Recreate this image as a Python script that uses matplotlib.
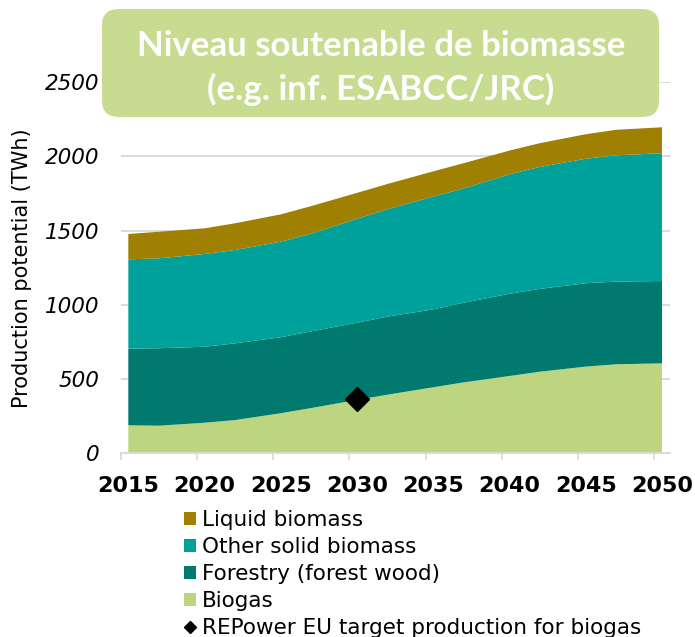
import matplotlib
matplotlib.use('Agg')
import matplotlib.pyplot as plt
from matplotlib.patches import FancyBboxPatch, Patch
from matplotlib.lines import Line2D

# values (TWh)
years = [2015, 2017, 2020, 2022, 2025, 2027, 2030, 2032, 2035, 2037, 2040, 2042, 2045, 2047, 2050]
biogas = [189, 186, 206, 224, 270, 305, 360, 395, 445, 478, 521, 550, 584, 600, 606]
forestry = [516, 522, 512, 517, 512, 517, 520, 526, 525, 537, 554, 558, 562, 557, 555]
other_solid = [602, 606, 625, 629, 644, 658, 700, 724, 760, 770, 805, 822, 839, 851, 861]
liquid = [171, 179, 173, 180, 184, 186, 175, 170, 170, 170, 160, 160, 165, 172, 175]

target_year = [2030]
target_value = [365]

labels = ['Biogas', 'Forestry (forest wood)', 'Other solid biomass', 'Liquid biomass']
colors = ['#BDD57E', '#00796F', '#00A19A', '#A08000']
x_ticks = [2015, 2020, 2025, 2030, 2035, 2040, 2045, 2050]
y_ticks = [0, 500, 1000, 1500, 2000, 2500]

W, H = 695, 637
fig = plt.figure(figsize=(W / 100, H / 100), dpi=100)
ax = fig.add_axes([120.7 / W, 1 - 453.3 / H, (669.6 - 120.7) / W, (453.3 - 82.3) / H])

ax.stackplot(years, biogas, forestry, other_solid, liquid, colors=colors, linewidth=0, zorder=2)
ax.plot(target_year, target_value, marker='D', color='black', markersize=12, linestyle='none', zorder=3)

ax.set_xlim(2014.5, 2050.5)
ax.set_ylim(0, 2500)
ax.set_yticks(y_ticks)
ax.set_yticklabels([str(v) for v in y_ticks], fontstyle='italic', fontsize=15.5)
ax.set_xticks(x_ticks)
ax.set_xticklabels([str(v) for v in x_ticks], fontweight='bold', fontsize=16)
ax.set_xticks([t - 0.5 for t in x_ticks], minor=True)
ax.tick_params(axis='x', which='major', length=0, pad=16)
ax.tick_params(axis='x', which='minor', length=5, color='#d9d9d9', width=1.2)
ax.tick_params(axis='y', length=0, pad=15)
ax.grid(axis='y', color='#d9d9d9', linewidth=1.3, zorder=0)
ax.set_axisbelow(True)
for s in ['top', 'right', 'left']:
    ax.spines[s].set_visible(False)
ax.spines['bottom'].set_color('#d9d9d9')
ax.spines['bottom'].set_linewidth(1.3)
ax.set_ylabel('Production potential (TWh)', fontsize=15)
ax.yaxis.set_label_coords((22 - 120.7) / (669.6 - 120.7), (453.3 - 268) / (453.3 - 82.3))
ax.yaxis.label.set_va('center')

# title box
box = FancyBboxPatch((102 / W, 1 - 117 / H), (659 - 102) / W, (117 - 9) / H,
                     boxstyle='round,pad=0,rounding_size=0.025', transform=fig.transFigure,
                     facecolor='#C7DC90', edgecolor='none', zorder=5)
fig.patches.append(box)
fig.text(381 / W, 1 - 68 / H, 'Niveau soutenable de biomasse\n(e.g. inf. ESABCC/JRC)',
         ha='center', va='center', color='white', fontsize=25, fontweight='bold',
         family='Lato', linespacing=1.42, zorder=6)

handles = [Patch(facecolor=colors[3]), Patch(facecolor=colors[2]), Patch(facecolor=colors[1]),
           Patch(facecolor=colors[0]),
           Line2D([], [], marker='D', color='black', linestyle='none', markersize=6)]
leg_labels = ['Liquid biomass', 'Other solid biomass', 'Forestry (forest wood)', 'Biogas',
              'REPower EU target production for biogas']
fig.legend(handles, leg_labels, loc='upper left', bbox_to_anchor=(184 / W, 1 - 510 / H),
           frameon=False, fontsize=15.5, handlelength=0.55, handleheight=0.55,
           handletextpad=0.28, labelspacing=0.33, borderpad=0, borderaxespad=0)

fig.savefig('out.png', dpi=100)
